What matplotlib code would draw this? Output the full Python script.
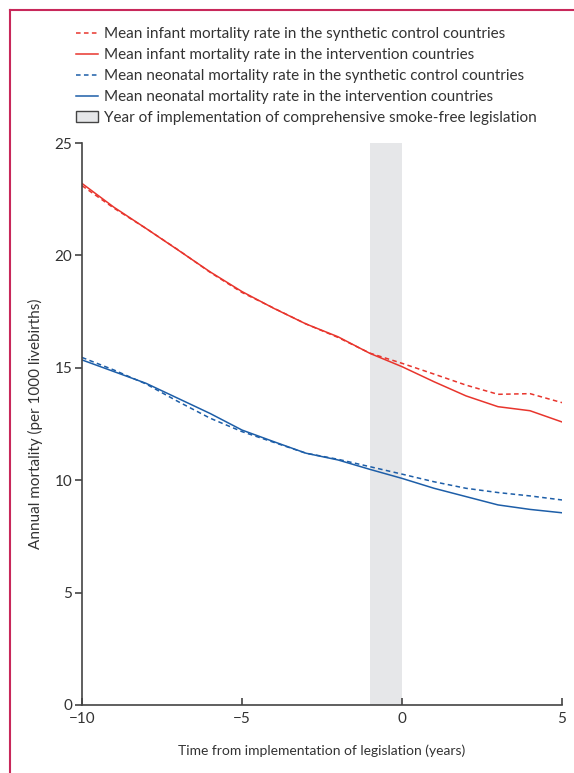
import numpy as np
import matplotlib
matplotlib.use('Agg')
import matplotlib.pyplot as plt
from matplotlib.lines import Line2D
from matplotlib.patches import Patch

plt.rcParams['font.family'] = ['Lato', 'DejaVu Sans']

# data
years = np.arange(-10, 6)
infant_synth = [23.1, 22.1, 21.2, 20.25, 19.25, 18.35, 17.65, 16.95, 16.35, 15.65,
                15.2, 14.72, 14.23, 13.82, 13.85, 13.45]
infant_interv = [23.2, 22.14, 21.2, 20.24, 19.27, 18.39, 17.64, 16.95, 16.38, 15.64,
                 15.05, 14.38, 13.75, 13.27, 13.09, 12.59]
neo_synth = [15.46, 14.9, 14.28, 13.5, 12.76, 12.16, 11.68, 11.2, 10.93, 10.6,
             10.27, 9.93, 9.64, 9.45, 9.3, 9.12]
neo_interv = [15.35, 14.83, 14.31, 13.64, 12.97, 12.23, 11.71, 11.2, 10.9, 10.48,
              10.08, 9.64, 9.27, 8.9, 8.7, 8.55]
legislation_span = (-1, 0)

labels = ['Mean infant mortality rate in the synthetic control countries',
          'Mean infant mortality rate in the intervention countries',
          'Mean neonatal mortality rate in the synthetic control countries',
          'Mean neonatal mortality rate in the intervention countries',
          'Year of implementation of comprehensive smoke-free legislation']

red = '#e8352d'
blue = '#1d5ea8'
grey = '#444444'
text_c = '#333333'

fig = plt.figure(figsize=(5.74, 7.73), dpi=100)
ax = fig.add_axes([0.1429, 0.088, 0.8362, 0.727])

ax.axvspan(*legislation_span, color='#e6e7e9', lw=0, zorder=0)
ax.plot(years, infant_synth, color=red, lw=1.1, dashes=(3, 2.2))
ax.plot(years, infant_interv, color=red, lw=1.1)
ax.plot(years, neo_synth, color=blue, lw=1.1, dashes=(3, 2.2))
ax.plot(years, neo_interv, color=blue, lw=1.1)

ax.set_xlim(-10, 5)
ax.set_ylim(0, 25)
ax.set_xticks([-10, -5, 0, 5])
ax.set_xticklabels(['\u221210', '\u22125', '0', '5'])
ax.set_yticks([0, 5, 10, 15, 20, 25])
for s in ['top', 'right']:
    ax.spines[s].set_visible(False)
for s in ['left', 'bottom']:
    ax.spines[s].set_color(grey)
    ax.spines[s].set_linewidth(1.2)
ax.tick_params(axis='x', direction='in', length=5, width=1.2, color=grey,
               labelsize=11, labelcolor=text_c, pad=5)
ax.tick_params(axis='y', direction='out', length=5, width=1.2, color=grey,
               labelsize=11, labelcolor=text_c, pad=2)
ax.set_xlabel('Time from implementation of legislation (years)', fontsize=10,
              color=text_c, labelpad=13)
ax.set_ylabel('Annual mortality (per 1000 livebirths)', fontsize=11,
              color=text_c, labelpad=8)

handles = [Line2D([], [], color=red, lw=1.1, dashes=(3, 2.2)),
           Line2D([], [], color=red, lw=1.1),
           Line2D([], [], color=blue, lw=1.1, dashes=(3, 2.2)),
           Line2D([], [], color=blue, lw=1.1),
           Patch(facecolor='#e6e7e9', edgecolor=grey, lw=1.0)]
leg = fig.legend(handles, labels, loc='upper left', bbox_to_anchor=(0.122, 0.973),
                 frameon=False, fontsize=11, handlelength=1.45, handletextpad=0.4,
                 labelspacing=0.46, borderaxespad=0)
for t in leg.get_texts():
    t.set_color(text_c)

# journal frame lines
frame_c = '#c8285a'
fig.add_artist(Line2D([10 / 574, 10 / 574], [0, 1 - 10 / 773], color=frame_c, lw=1.5))
fig.add_artist(Line2D([10 / 574, 1], [1 - 10 / 773, 1 - 10 / 773], color=frame_c, lw=1.5))

fig.savefig('out.png', dpi=100)
